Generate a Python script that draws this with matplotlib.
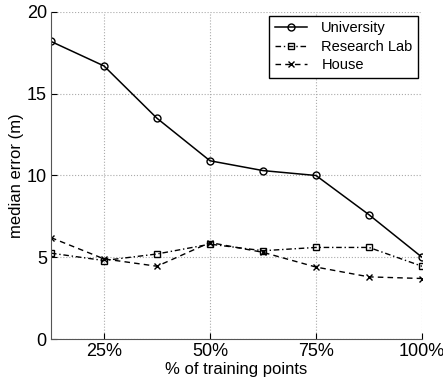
import matplotlib
matplotlib.use("Agg")
import matplotlib.pyplot as plt

# % of training points
pct = [12.5, 25, 37.5, 50, 62.5, 75, 87.5, 100]
university = [18.2, 16.7, 13.5, 10.9, 10.3, 10.0, 7.6, 5.0]
research_lab = [5.25, 4.8, 5.2, 5.8, 5.4, 5.6, 5.6, 4.45]
house = [6.2, 4.9, 4.45, 5.9, 5.3, 4.4, 3.8, 3.7]

xticks = [25, 50, 75, 100]
xticklabels = ["25%", "50%", "75%", "100%"]
yticks = [0, 5, 10, 15, 20]

plt.rcParams['font.family'] = ['Liberation Sans', 'DejaVu Sans']

fig = plt.figure(figsize=(4.43, 3.82), dpi=100)
ax = fig.add_axes([51 / 443, 1 - 339 / 382, 371 / 443, 327 / 382])

ax.plot(pct, university, '-', color='black', lw=1.1, marker='o',
        ms=5, mfc='none', mew=1.0, label='University')
ax.plot(pct, research_lab, color='black', lw=1.0, dashes=(4, 2, 1, 2),
        marker='s', ms=5, mfc='none', mew=1.0, label='Research Lab')
ax.plot(pct, house, color='black', lw=1.0, dashes=(4, 3),
        marker='x', ms=4, mew=1.0, label='House')

ax.set_xlim(12.5, 100)
ax.set_ylim(0, 20)
ax.set_xticks(xticks)
ax.set_xticklabels(xticklabels)
ax.set_yticks(yticks)
ax.tick_params(direction='in', labelsize=13, length=4, width=0.8, pad=3)
ax.grid(True, linestyle=':', color='#aaaaaa', lw=0.8)
ax.spines['top'].set_visible(False)
ax.spines['right'].set_visible(False)
for s in ('left', 'bottom'):
    ax.spines[s].set_color('#555555')

ax.set_xlabel('% of training points', fontsize=12, labelpad=1)
ax.set_ylabel('median error (m)', fontsize=12, labelpad=2)

leg = ax.legend(loc='upper right', fontsize=10.5, fancybox=False,
                framealpha=1, edgecolor='black', borderpad=0.4,
                labelspacing=0.3, handlelength=2.2, handletextpad=1.0,
                bbox_to_anchor=(1.0, 1.0), borderaxespad=0.25)
leg.get_frame().set_linewidth(1.0)

fig.savefig('out.png', dpi=100)
